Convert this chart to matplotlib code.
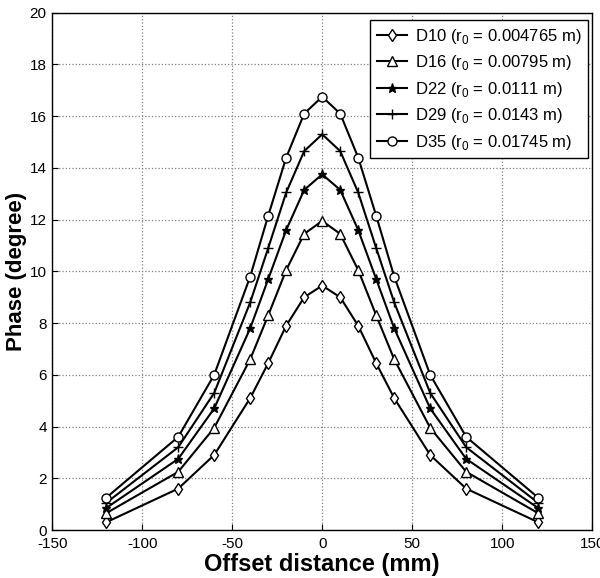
import matplotlib
matplotlib.use('Agg')
import matplotlib.pyplot as plt

plt.rcParams['font.family'] = ['Liberation Sans', 'DejaVu Sans']
plt.rcParams['mathtext.fontset'] = 'custom'
plt.rcParams['mathtext.rm'] = 'Liberation Sans'
plt.rcParams['axes.unicode_minus'] = False

offset = [-120, -80, -60, -40, -30, -20, -10, 0, 10, 20, 30, 40, 60, 80, 120]

d10 = [0.3, 1.6, 2.9, 5.1, 6.45, 7.9, 9.0, 9.45, 9.0, 7.9, 6.45, 5.1, 2.9, 1.6, 0.3]
d16 = [0.65, 2.25, 3.95, 6.6, 8.3, 10.05, 11.45, 11.95, 11.45, 10.05, 8.3, 6.6, 3.95, 2.25, 0.65]
d22 = [0.85, 2.75, 4.7, 7.8, 9.7, 11.6, 13.15, 13.75, 13.15, 11.6, 9.7, 7.8, 4.7, 2.75, 0.85]
d29 = [1.05, 3.2, 5.3, 8.8, 10.9, 13.05, 14.65, 15.3, 14.65, 13.05, 10.9, 8.8, 5.3, 3.2, 1.05]
d35 = [1.25, 3.6, 6.0, 9.8, 12.15, 14.4, 16.1, 16.75, 16.1, 14.4, 12.15, 9.8, 6.0, 3.6, 1.25]

labels = ['D10 (r$_0$ = 0.004765 m)', 'D16 (r$_0$ = 0.00795 m)', 'D22 (r$_0$ = 0.0111 m)',
          'D29 (r$_0$ = 0.0143 m)', 'D35 (r$_0$ = 0.01745 m)']
markers = ['d', '^', '*', '+', 'o']

fig = plt.figure(figsize=(6, 5.78), dpi=100)
ax = fig.add_axes([0.087, 0.083, 0.9, 0.895])

for ys, lab, m in zip([d10, d16, d22, d29, d35], labels, markers):
    face = 'black' if m == '*' else 'white'
    ax.plot(offset, ys, color='black', linewidth=1.5, marker=m, markersize=6.5,
            markerfacecolor=face, markeredgecolor='black', markeredgewidth=1.0, label=lab)

ax.set_xlim(-150, 150)
ax.set_ylim(0, 20)
ax.set_xticks(range(-150, 151, 50))
ax.set_yticks(range(0, 21, 2))
ax.grid(True, linestyle=':', color='gray', linewidth=0.9)
ax.tick_params(direction='in', labelsize=11, length=4)
ax.tick_params(axis='x', pad=5)
ax.tick_params(axis='y', pad=4)
for s in ax.spines.values():
    s.set_linewidth(1.0)

ax.set_xlabel('Offset distance (mm)', fontsize=17, fontweight='bold')
ax.set_ylabel('Phase (degree)', fontsize=16, fontweight='bold')
ax.xaxis.set_label_coords(0.5, -0.045)
ax.yaxis.set_label_coords(-0.047, 0.5)

leg = ax.legend(loc='upper right', fontsize=12, fancybox=False, framealpha=1,
                edgecolor='black', handlelength=1.8, borderpad=0.4, labelspacing=0.45,
                handletextpad=0.5, borderaxespad=0, bbox_to_anchor=(0.993, 0.986))
leg.get_frame().set_linewidth(1.0)

fig.savefig('out.png', dpi=100)
